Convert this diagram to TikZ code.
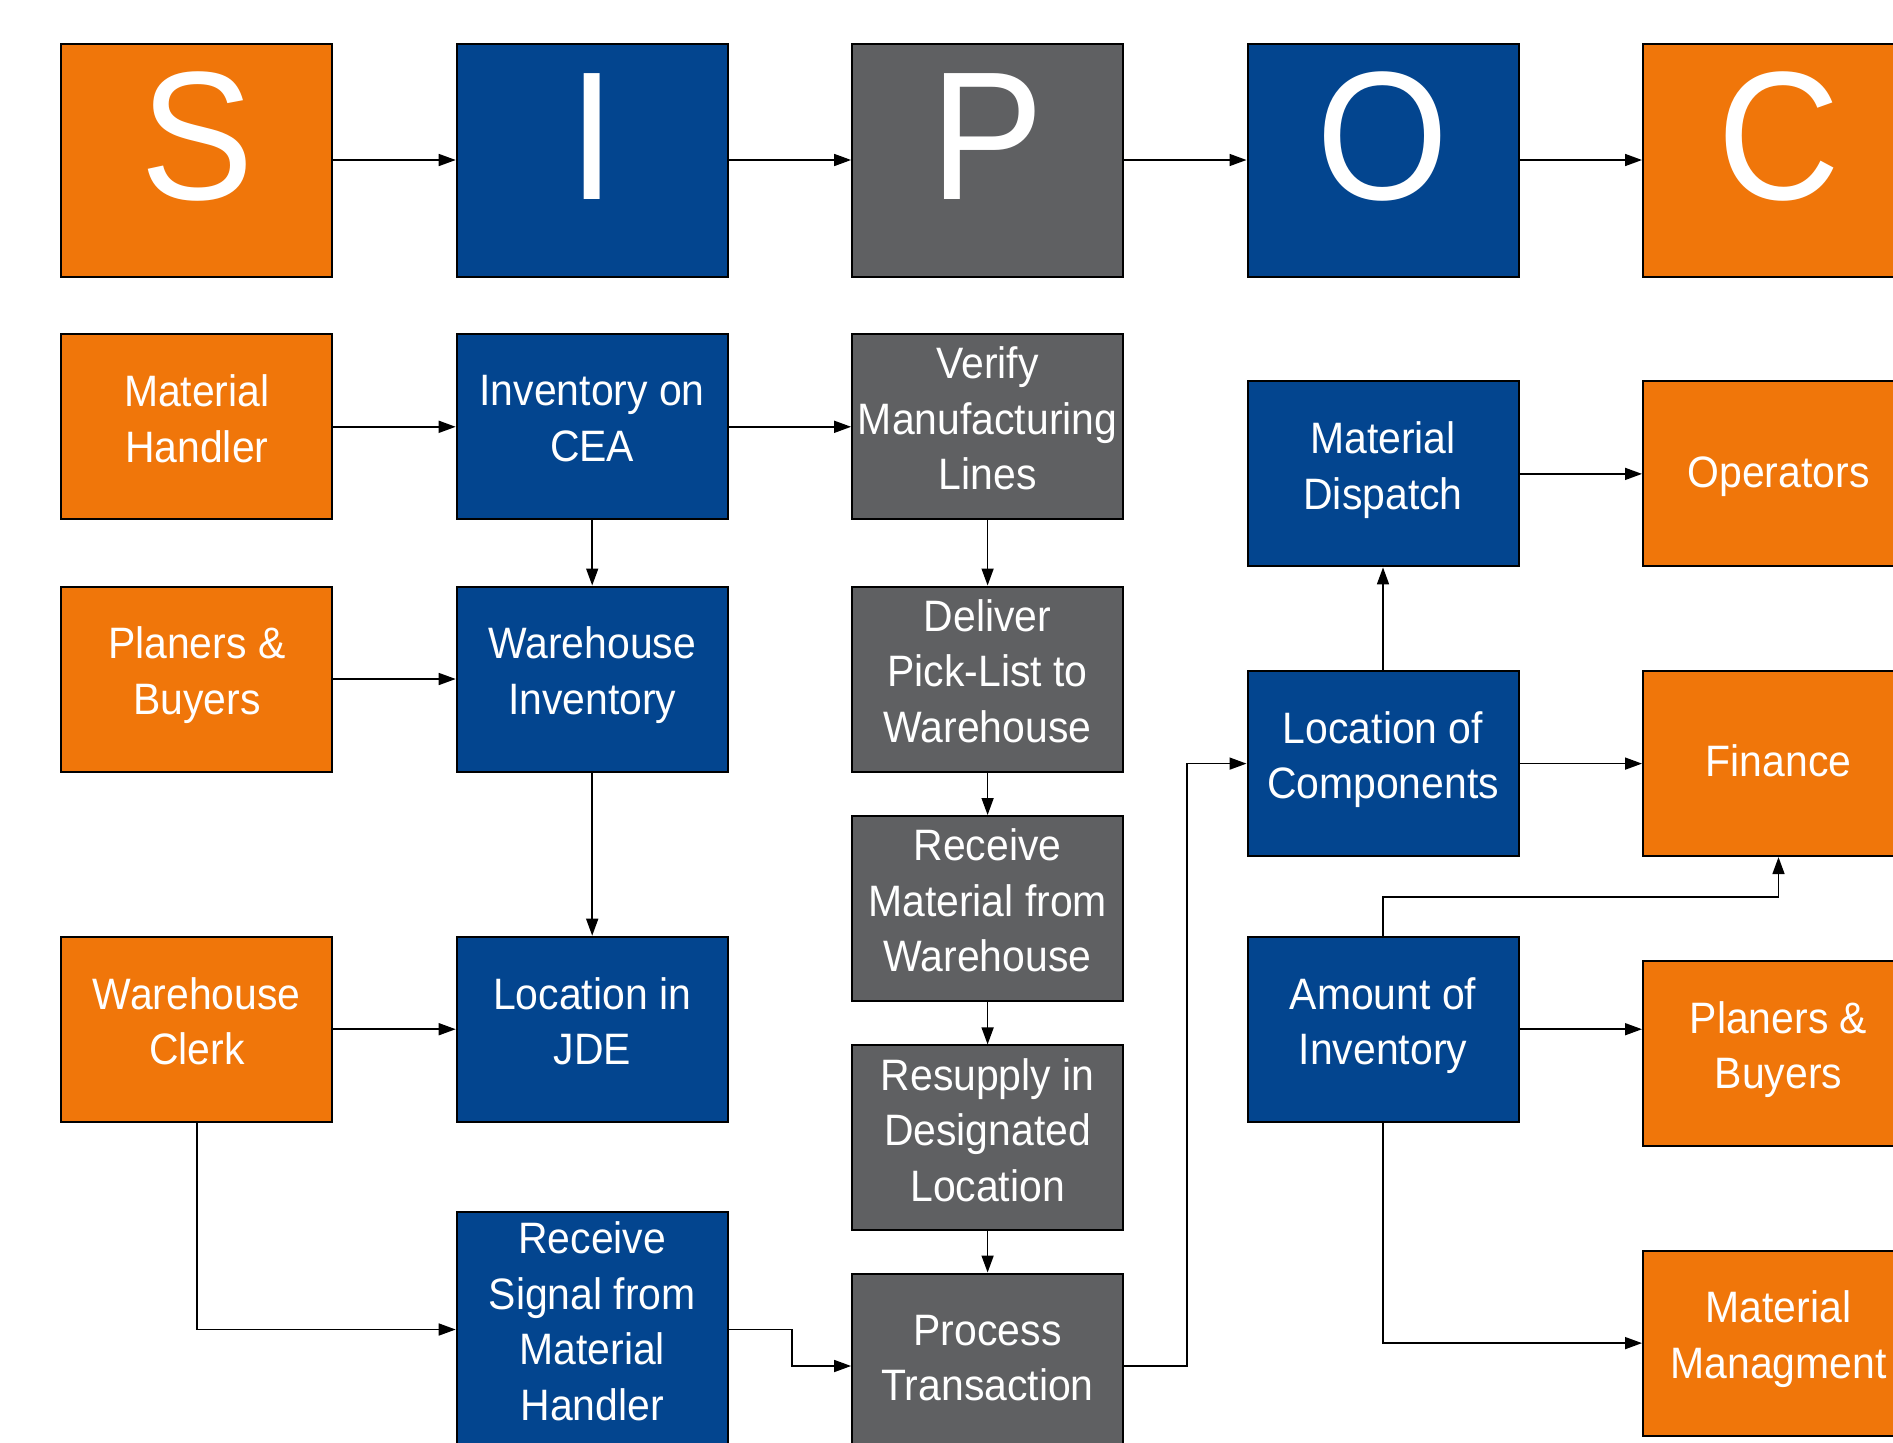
\documentclass[tikz,border=0pt]{standalone}
\usepackage{fontspec}
\setmainfont{Liberation Sans}[FakeStretch=0.93]
\usetikzlibrary{arrows.meta}
\definecolor{sorange}{HTML}{F0760A}
\definecolor{sblue}{HTML}{03458F}
\definecolor{sgray}{HTML}{5F6062}
\begin{document}
\begin{tikzpicture}[x=1pt,y=-1pt,
  box/.style={draw=black, line width=2pt, minimum width=271pt, minimum height=185pt,
    inner sep=0pt, text=white, align=center, font=\fontsize{44}{55.5}\selectfont,
    execute at begin node=\rule{0pt}{43pt}, execute at end node=\strut},
  hdr/.style={draw=black, line width=2pt, minimum width=271pt, minimum height=233pt,
    inner sep=0pt, text=white, font=\fontsize{183}{183}\selectfont,
    text height=131pt, text depth=52pt},
  conn/.style={draw=black, line width=1.6pt, -{Triangle[length=17pt,width=12pt]}},
  og/.style={fill=sorange}, bl/.style={fill=sblue}, gr/.style={fill=sgray}]
\clip (0,0) rectangle (1893,1443);
\fill[white] (0,0) rectangle (1893,1443);
% header
\node[hdr,og] (S) at (196.8,160) {S};
\node[hdr,bl] (I) at (592.2,160) {I};
\node[hdr,gr] (P) at (987.6,160) {P};
\node[hdr,bl] (O) at (1383,160) {O};
\node[hdr,og] (C) at (1778.5,160) {C};
% suppliers
\node[box,og] (mh) at (196.8,426.8) {Material\\Handler};
\node[box,og] (pb1) at (196.8,679) {Planers \&\\Buyers};
\node[box,og] (wc) at (196.8,1029.2) {Warehouse\\Clerk};
% inputs
\node[box,bl] (cea) at (592.2,426.8) {Inventory on\\CEA};
\node[box,bl] (wi) at (592.2,679) {Warehouse\\Inventory};
\node[box,bl] (jde) at (592.2,1029.2) {Location in\\JDE};
\node[box,bl,minimum height=235pt] (rs) at (592.2,1329.5) {Receive\\Signal from\\Material\\Handler};
% process
\node[box,gr] (vml) at (987.6,426.8) {Verify\\Manufacturing\\Lines};
\node[box,gr] (dpl) at (987.6,679) {Deliver\\Pick-List to\\Warehouse};
\node[box,gr] (rmw) at (987.6,908.5) {Receive\\Material from\\Warehouse};
\node[box,gr] (rdl) at (987.6,1137.9) {Resupply in\\Designated\\Location};
\node[box,gr] (pt) at (987.6,1366) {Process\\Transaction};
% outputs
\node[box,bl] (md) at (1383,473.9) {Material\\Dispatch};
\node[box,bl] (loc) at (1383,763.6) {Location of\\Components};
\node[box,bl] (amt) at (1383,1029.2) {Amount of\\Inventory};
% customers
\node[box,og] (ops) at (1778.5,473.9) {Operators};
\node[box,og] (fin) at (1778.5,763.6) {Finance};
\node[box,og] (pb2) at (1778.5,1053.4) {Planers \&\\Buyers};
\node[box,og] (mm) at (1778.5,1343.1) {Material\\Managment};
% header connectors
\draw[conn] (S) -- (I);
\draw[conn] (I) -- (P);
\draw[conn] (P) -- (O);
\draw[conn] (O) -- (C);
% body connectors
\draw[conn] (mh) -- (cea);
\draw[conn] (cea) -- (vml);
\draw[conn] (cea) -- (wi);
\draw[conn] (pb1) -- (wi);
\draw[conn] (wi) -- (jde);
\draw[conn] (wc) -- (jde);
\draw[conn] (wc.south) |- (rs.west);
\draw[conn] (rs.east) -- ++(63,0) |- (pt.west);
\draw[conn] (vml) -- (dpl);
\draw[conn] (dpl) -- (rmw);
\draw[conn] (rmw) -- (rdl);
\draw[conn] (rdl) -- (pt);
\draw[conn] (pt.east) -- ++(62.6,0) |- (loc.west);
\draw[conn] (loc) -- (md);
\draw[conn] (md) -- (ops);
\draw[conn] (loc) -- (fin);
\draw[conn] (amt.north) -- ++(0,-39) -| (fin.south);
\draw[conn] (amt.east) -- (amt.east -| pb2.west);
\draw[conn] (amt.south) |- (mm.west);
\end{tikzpicture}
\end{document}
